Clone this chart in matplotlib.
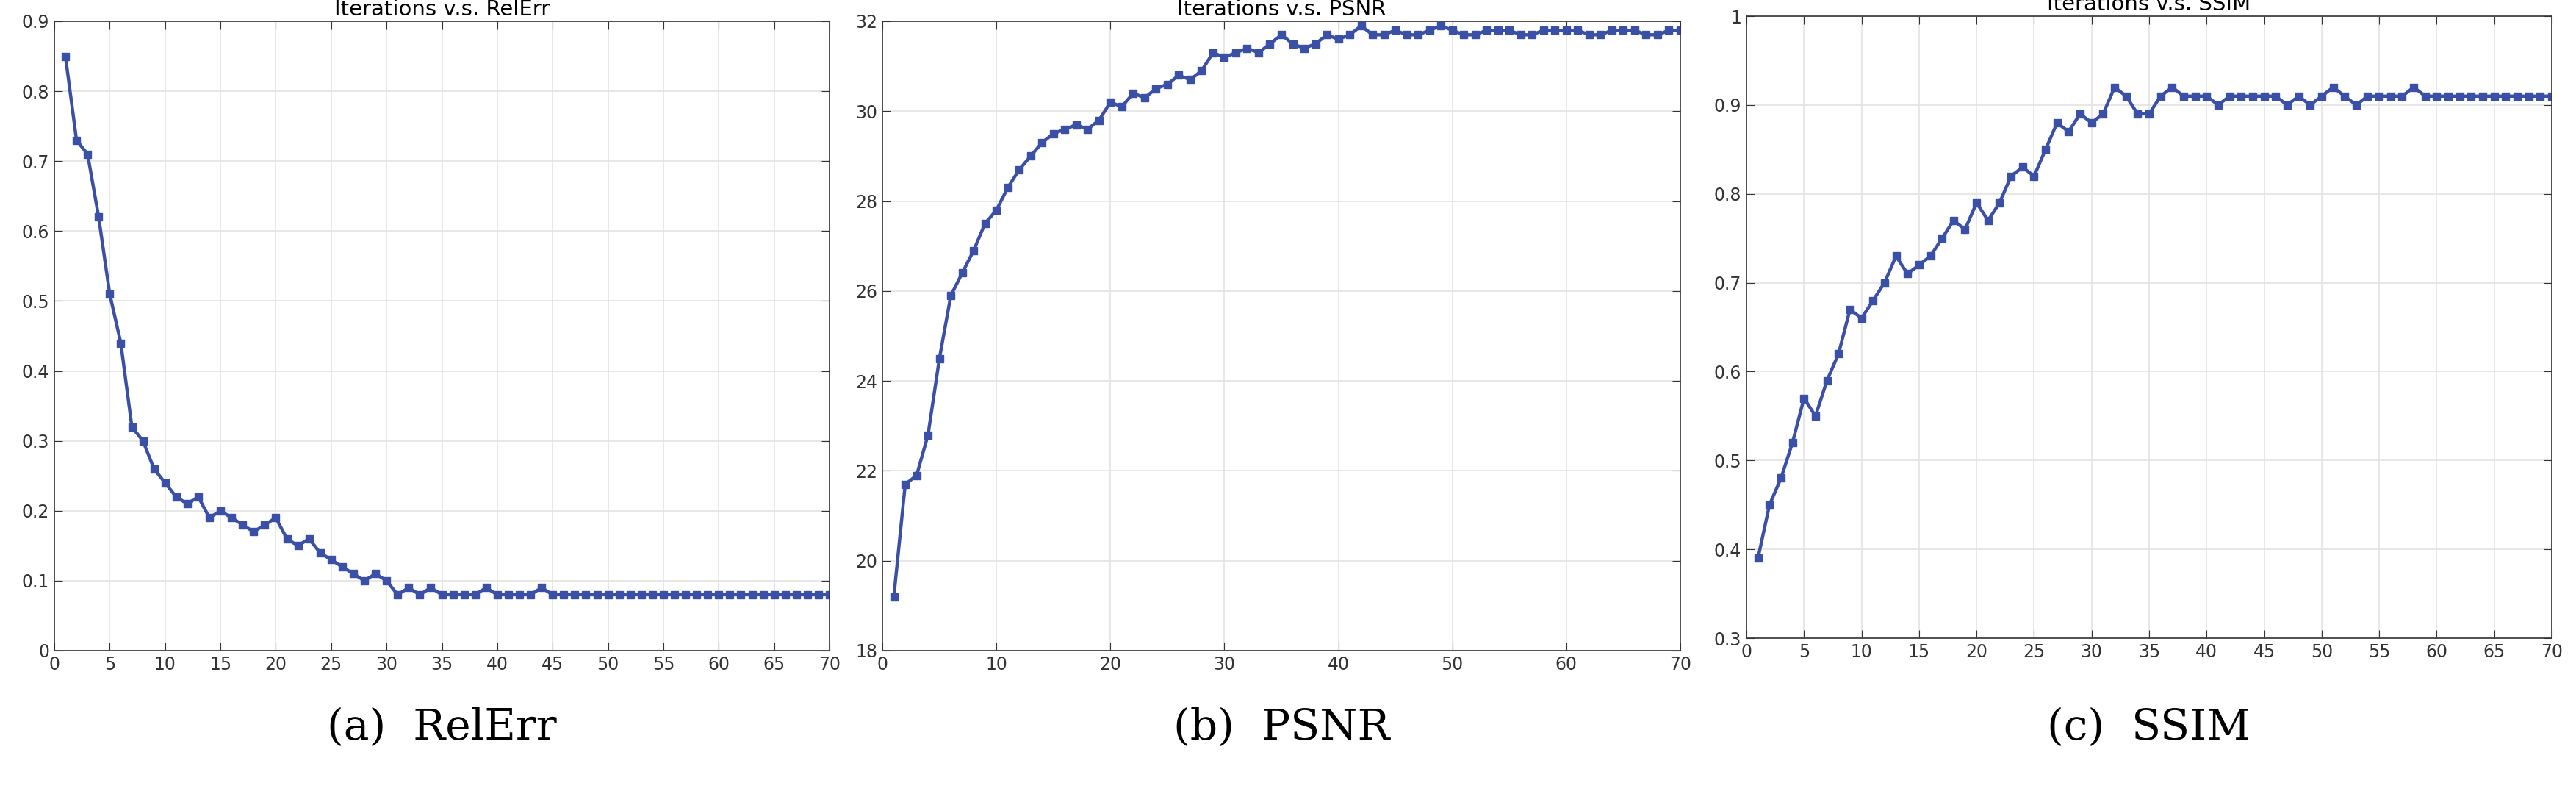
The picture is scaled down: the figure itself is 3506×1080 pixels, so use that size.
import matplotlib.pyplot as plt
import numpy as np

iters = np.arange(1, 71)

relerr = [0.85, 0.73, 0.71, 0.62, 0.51, 0.44, 0.32, 0.30, 0.26, 0.24,
          0.22, 0.21, 0.22, 0.19, 0.20, 0.19, 0.18, 0.17, 0.18, 0.19,
          0.16, 0.15, 0.16, 0.14, 0.13, 0.12, 0.11, 0.10, 0.11, 0.10,
          0.08, 0.09, 0.08, 0.09, 0.08, 0.08, 0.08, 0.08, 0.09, 0.08,
          0.08, 0.08, 0.08, 0.09] + [0.08] * 26

psnr = [19.2, 21.7, 21.9, 22.8, 24.5, 25.9, 26.4, 26.9, 27.5, 27.8,
        28.3, 28.7, 29.0, 29.3, 29.5, 29.6, 29.7, 29.6, 29.8, 30.2,
        30.1, 30.4, 30.3, 30.5, 30.6, 30.8, 30.7, 30.9, 31.3, 31.2,
        31.3, 31.4, 31.3, 31.5, 31.7, 31.5, 31.4, 31.5, 31.7, 31.6,
        31.7, 31.9, 31.7, 31.7, 31.8, 31.7, 31.7, 31.8, 31.9, 31.8,
        31.7, 31.7, 31.8, 31.8, 31.8, 31.7, 31.7, 31.8, 31.8, 31.8,
        31.8, 31.7, 31.7, 31.8, 31.8, 31.8, 31.7, 31.7, 31.8, 31.8]

ssim = [0.39, 0.45, 0.48, 0.52, 0.57, 0.55, 0.59, 0.62, 0.67, 0.66,
        0.68, 0.70, 0.73, 0.71, 0.72, 0.73, 0.75, 0.77, 0.76, 0.79,
        0.77, 0.79, 0.82, 0.83, 0.82, 0.85, 0.88, 0.87, 0.89, 0.88,
        0.89, 0.92, 0.91, 0.89, 0.89, 0.91, 0.92, 0.91, 0.91, 0.91,
        0.90, 0.91, 0.91, 0.91, 0.91, 0.91, 0.90, 0.91, 0.90, 0.91,
        0.92, 0.91, 0.90, 0.91, 0.91, 0.91, 0.91, 0.92] + [0.91] * 12

titles = ['Iterations v.s. RelErr', 'Iterations v.s. PSNR', 'Iterations v.s. SSIM']
captions = ['(a)  RelErr', '(b)  PSNR', '(c)  SSIM']

plt.rcParams['font.family'] = ['Liberation Sans Narrow', 'DejaVu Sans']

W, H = 3506, 1080
fig = plt.figure(figsize=(W / 100, H / 100), dpi=100)

# axes boxes in pixels: left, top, right, bottom
boxes = [(74, 29, 1129, 885), (1201, 29, 2287, 885), (2377, 22, 3473, 868)]
ylims = [(0, 0.9), (18, 32), (0.3, 1.0)]
yticks = [np.arange(0, 0.91, 0.1), np.arange(18, 33, 2), np.arange(0.3, 1.01, 0.1)]
xticks = [np.arange(0, 71, 5), np.arange(0, 71, 10), np.arange(0, 71, 5)]
series = [relerr, psnr, ssim]
color = '#3a4fa6'

for i in range(3):
    l, t, r, b = boxes[i]
    ax = fig.add_axes([l / W, 1 - b / H, (r - l) / W, (b - t) / H])
    ax.plot(iters, series[i], '-s', color=color, lw=3.2, ms=7.5,
            markeredgecolor=color)
    ax.set_xlim(0, 70)
    ax.set_ylim(*ylims[i])
    ax.set_xticks(xticks[i])
    ax.set_yticks(yticks[i])
    if i == 0:
        ax.set_yticklabels(['0'] + [f'{v:.1f}' for v in yticks[i][1:]])
    elif i == 2:
        ax.set_yticklabels([f'{v:.1f}' for v in yticks[i][:-1]] + ['1'])
    ax.grid(True, color='#e3e3e3', lw=1.2)
    ax.tick_params(direction='in', length=8, labelsize=17, colors='#333333',
                   top=True, right=True, pad=5)
    for s in ax.spines.values():
        s.set_color('#333333')
        s.set_linewidth(1.2)
    ax.set_title(titles[i], fontsize=21, pad=6)
    fig.text((l + r) / 2 / W, 1 - 990 / H, captions[i], ha='center', va='center',
             fontsize=42, family=['DejaVu Serif'])

fig.savefig('out.png', dpi=100)
